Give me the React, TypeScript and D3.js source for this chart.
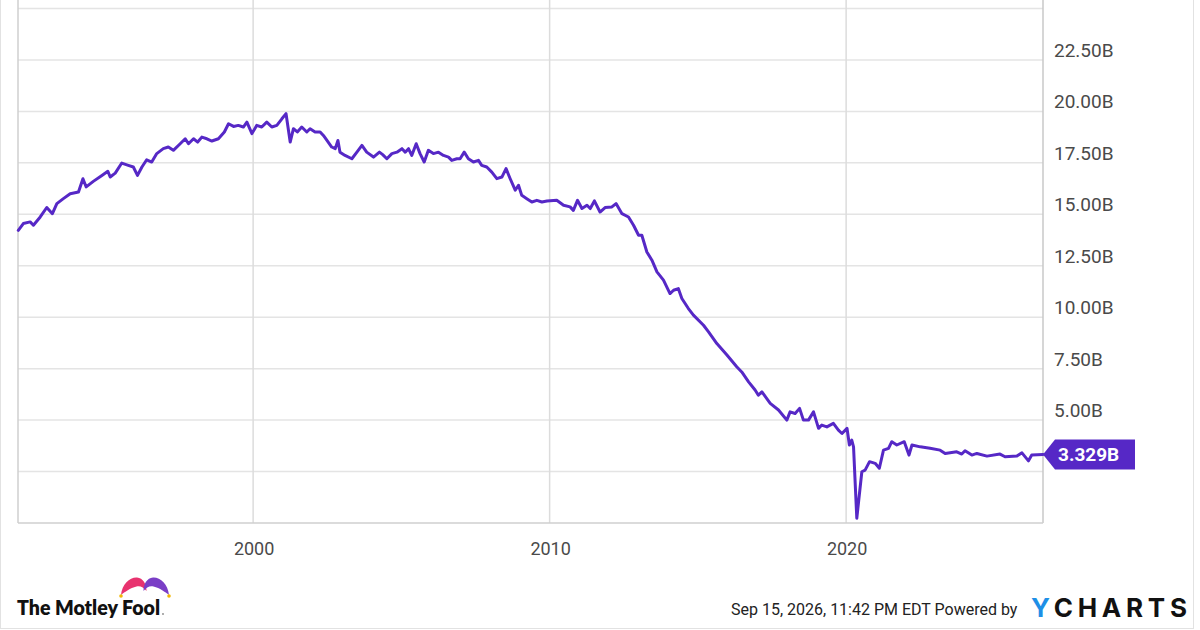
import React from "react";
import * as d3 from "d3";

const dates: number[] = [
  1992.08, 1992.25, 1992.48, 1992.59, 1992.82, 1993.04, 1993.23, 1993.38, 1993.6, 1993.83,
  1994.11, 1994.26, 1994.37, 1994.61, 1994.9, 1995.1, 1995.18, 1995.35, 1995.57, 1995.79,
  1995.96, 1996.1, 1996.25, 1996.41, 1996.58, 1996.75, 1996.97, 1997.14, 1997.31, 1997.54,
  1997.71, 1997.82, 1997.99, 1998.13, 1998.27, 1998.44, 1998.61, 1998.83, 1999.03, 1999.17,
  1999.34, 1999.5, 1999.67, 1999.79, 1999.96, 2000.12, 2000.29, 2000.46, 2000.63, 2000.8,
  2000.97, 2001.11, 2001.25, 2001.36, 2001.49, 2001.64, 2001.81, 2001.92, 2002.09, 2002.26,
  2002.37, 2002.49, 2002.65, 2002.77, 2002.86, 2002.93, 2003.1, 2003.33, 2003.5, 2003.67,
  2003.83, 2004.06, 2004.26, 2004.37, 2004.51, 2004.68, 2004.85, 2005.02, 2005.13, 2005.24,
  2005.35, 2005.5, 2005.63, 2005.77, 2005.91, 2006.08, 2006.25, 2006.42, 2006.59, 2006.7,
  2006.87, 2006.98, 2007.12, 2007.26, 2007.43, 2007.6, 2007.71, 2007.88, 2008.05, 2008.22,
  2008.39, 2008.53, 2008.67, 2008.84, 2008.95, 2009.06, 2009.23, 2009.4, 2009.57, 2009.74,
  2009.91, 2010.24, 2010.47, 2010.69, 2010.8, 2010.94, 2011.09, 2011.26, 2011.37, 2011.51,
  2011.7, 2011.87, 2012.1, 2012.24, 2012.44, 2012.66, 2012.83, 2013.0, 2013.11, 2013.28,
  2013.45, 2013.62, 2013.84, 2014.06, 2014.18, 2014.34, 2014.46, 2014.68, 2014.85, 2015.19,
  2015.36, 2015.64, 2015.98, 2016.31, 2016.48, 2016.71, 2016.93, 2017.04, 2017.16, 2017.44,
  2017.72, 2018.0, 2018.11, 2018.28, 2018.43, 2018.56, 2018.73, 2018.9, 2019.07, 2019.18,
  2019.35, 2019.57, 2019.74, 2019.86, 2020.03, 2020.11, 2020.19, 2020.25, 2020.36, 2020.53,
  2020.64, 2020.79, 2020.98, 2021.12, 2021.26, 2021.43, 2021.54, 2021.71, 2021.96, 2022.12,
  2022.22, 2022.5, 2022.83, 2023.17, 2023.34, 2023.73, 2023.9, 2024.01, 2024.24, 2024.41,
  2024.75, 2025.19, 2025.36, 2025.76, 2025.93, 2026.15, 2026.26, 2026.64,
];

const values: number[] = [
  14.22, 14.55, 14.63, 14.47, 14.87, 15.33, 15.03, 15.52, 15.76, 16.0,
  16.08, 16.73, 16.33, 16.6, 16.89, 17.09, 16.81, 17.0, 17.49, 17.38,
  17.3, 16.89, 17.3, 17.65, 17.54, 17.95, 18.19, 18.27, 18.11, 18.43,
  18.67, 18.43, 18.67, 18.51, 18.75, 18.67, 18.56, 18.67, 19.0, 19.4,
  19.27, 19.32, 19.24, 19.48, 18.92, 19.32, 19.24, 19.48, 19.24, 19.32,
  19.64, 19.89, 18.51, 19.16, 19.0, 19.24, 19.0, 19.16, 19.0, 19.0,
  18.83, 18.59, 18.27, 18.19, 18.59, 18.02, 17.86, 17.7, 18.02, 18.35,
  18.02, 17.78, 18.02, 17.9, 17.7, 17.95, 18.02, 18.19, 18.02, 18.19,
  17.86, 18.43, 17.95, 17.54, 18.11, 17.95, 18.02, 17.86, 17.78, 17.62,
  17.7, 17.7, 18.02, 17.7, 17.54, 17.62, 17.38, 17.3, 17.05, 16.73,
  16.81, 17.22, 16.73, 16.17, 16.41, 15.92, 15.76, 15.6, 15.68, 15.6,
  15.65, 15.68, 15.44, 15.36, 15.19, 15.68, 15.28, 15.44, 15.28, 15.65,
  15.11, 15.33, 15.36, 15.52, 15.03, 14.87, 14.47, 13.98, 13.98, 13.17,
  12.77, 12.2, 11.8, 11.15, 11.31, 11.39, 10.91, 10.42, 10.1, 9.61,
  9.29, 8.72, 8.16, 7.59, 7.34, 6.86, 6.46, 6.21, 6.37, 5.81,
  5.49, 5.0, 5.4, 5.32, 5.57, 5.0, 5.0, 5.4, 4.6, 4.76,
  4.67, 4.84, 4.51, 4.35, 4.6, 3.79, 4.03, 3.7, 0.23, 2.49,
  2.57, 2.98, 2.9, 2.66, 3.54, 3.63, 3.95, 3.79, 3.95, 3.3,
  3.79, 3.7, 3.63, 3.54, 3.38, 3.46, 3.35, 3.51, 3.3, 3.38,
  3.25, 3.35, 3.22, 3.25, 3.41, 3.02, 3.3, 3.329,
];

const xTickYears: number[] = [2000, 2010, 2020];
const gridValues: number[] = [2.5, 5, 7.5, 10, 12.5, 15, 17.5, 20, 22.5, 25];
const yLabelValues: number[] = [5, 7.5, 10, 12.5, 15, 17.5, 20, 22.5];
const lastLabel = "3.329B";
const footerText = "Sep 15, 2026, 11:42 PM EDT Powered by";

const W = 1200;
const H = 630;
const plotLeft = 18;
const plotRight = 1043;
const plotBottom = 523;
const plotTopAt25 = 8.5;
const LINE = "#5628c6";

export default function App() {
  const x = d3.scaleLinear().domain([1992.07, 2026.64]).range([plotLeft, plotRight]);
  const y = d3.scaleLinear().domain([0, 25]).range([plotBottom, plotTopAt25]);
  const pts = dates.map((d, i) => [d, values[i]] as [number, number]);
  const line = d3
    .line<[number, number]>()
    .x((d) => x(d[0]))
    .y((d) => y(d[1]));

  const lastV = values[values.length - 1];
  const ly = y(lastV);
  const lx = x(dates[dates.length - 1]);
  const flag = `M${lx},${ly} L${lx + 12},${ly - 15} L${lx + 92},${ly - 15} L${lx + 92},${ly + 15} L${lx + 12},${ly + 15} Z`;

  return (
    <svg
      width={W}
      height={H}
      viewBox={`0 0 ${W} ${H}`}
      style={{ position: "absolute", left: 0, top: 0, background: "#fff" }}
      fontFamily="Roboto, sans-serif"
    >
      <rect x={0} y={0} width={W} height={H} fill="#fff" />
      {/* outer frame */}
      <line x1={0.5} y1={0} x2={0.5} y2={628.5} stroke="#e2e2e2" strokeWidth={1} />
      <line x1={0} y1={628.5} x2={1194} y2={628.5} stroke="#e2e2e2" strokeWidth={1} />
      <line x1={1193.5} y1={0} x2={1193.5} y2={628.5} stroke="#e2e2e2" strokeWidth={1} />

      {/* horizontal grid */}
      {gridValues.map((v) => (
        <line
          key={"h" + v}
          x1={plotLeft}
          x2={plotRight}
          y1={y(v)}
          y2={y(v)}
          stroke="#e4e4e4"
          strokeWidth={1.5}
        />
      ))}
      {/* vertical grid */}
      {xTickYears.map((t) => (
        <line
          key={"v" + t}
          x1={x(t)}
          x2={x(t)}
          y1={0}
          y2={plotBottom}
          stroke="#dcdcdc"
          strokeWidth={1.5}
        />
      ))}
      {/* plot frame */}
      <line x1={plotLeft} x2={plotLeft} y1={0} y2={plotBottom} stroke="#cfcfcf" strokeWidth={1.5} />
      <line x1={plotRight} x2={plotRight} y1={0} y2={plotBottom} stroke="#c8c8c8" strokeWidth={1.5} />
      <line x1={plotLeft} x2={plotRight} y1={plotBottom} y2={plotBottom} stroke="#cfcfcf" strokeWidth={1.5} />

      {/* y labels */}
      {yLabelValues.map((v) => (
        <text
          key={"yl" + v}
          x={1054}
          y={y(v) - 3}
          fontSize={19}
          fill="#4a4a4a"
        >
          {d3.format(".2f")(v) + "B"}
        </text>
      ))}

      {/* x labels */}
      {xTickYears.map((t) => (
        <text key={"xl" + t} x={x(t) + 1} y={555} fontSize={18} fill="#4a4a4a" textAnchor="middle">
          {String(t)}
        </text>
      ))}

      {/* series */}
      <path
        d={line(pts) || ""}
        fill="none"
        stroke={LINE}
        strokeWidth={3}
        strokeLinejoin="round"
        strokeLinecap="round"
      />

      {/* last value flag */}
      <path d={flag} fill={LINE} />
      <text x={lx + 15} y={ly + 7} fontSize={19} fontWeight={700} fill="#fff">
        {lastLabel}
      </text>

      {/* Motley Fool logo */}
      <g>
        <path
          d="M121,595 C122,584 130,577 137,577.5 C143,578 146.5,584 146.5,591 C143.5,587 140,585.5 136.5,586.5 C130,588 125,592 121,595 Z"
          fill="#e8336f"
        />
        <path
          d="M169,595 C168,584 160,577 153,577.5 C147,578 143.5,584 143.5,591 C146.5,587 150,585.5 153.5,586.5 C160,588 165,592 169,595 Z"
          fill="#7a3ec6"
        />
        <circle cx={121} cy={596} r={1.8} fill="#f2b705" />
        <circle cx={169} cy={596} r={1.8} fill="#f2b705" />
        <text
          x={17}
          y={615}
          fontFamily="Lato, 'Open Sans', sans-serif"
          fontWeight={800}
          fontSize={20}
          fill="#111"
          textLength={143}
          lengthAdjust="spacingAndGlyphs"
        >
          The Motley Fool
        </text>
        <circle cx={163} cy={614} r={0.9} fill="#888" />
      </g>

      {/* footer */}
      <text x={731} y={615} fontSize={16} fill="#222">
        {footerText}
      </text>
      <text
        x={1031}
        y={617}
        fontFamily="Inter, 'Open Sans', sans-serif"
        fontWeight={700}
        fontSize={26}
        textLength={156}
        lengthAdjust="spacing"
      >
        <tspan fill="#1e8fe6">Y</tspan>
        <tspan fill="#111">CHARTS</tspan>
      </text>
    </svg>
  );
}
